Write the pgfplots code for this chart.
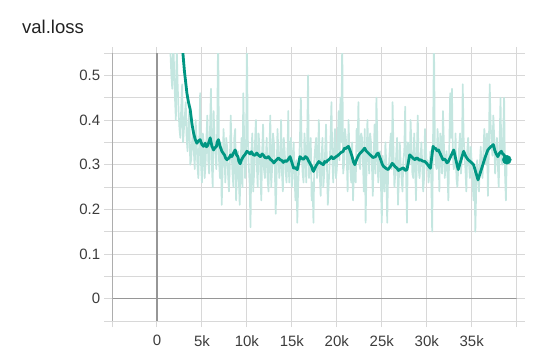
\documentclass[border=0pt]{standalone}
\usepackage{fontspec}
\setmainfont{Liberation Sans}
\usepackage{pgfplots}
\pgfplotsset{compat=1.18}
\definecolor{smoothc}{RGB}{0,150,130}
\definecolor{rawc}{RGB}{196,230,224}
\definecolor{gridc}{RGB}{216,216,216}
\definecolor{zeroc}{RGB}{150,150,150}
\definecolor{labc}{RGB}{60,60,60}
\definecolor{titc}{RGB}{33,33,33}
\pgfplotstableread{
x y
1400 0.62
1500 0.55
1600 0.50
1700 0.47
1800 0.58
1900 0.52
2000 0.45
2100 0.40
2200 0.56
2300 0.48
2400 0.42
2500 0.38
2600 0.36
2700 0.43
2800 0.48
2900 0.35
3000 0.38
3100 0.41
3200 0.44
3300 0.36
3400 0.33
3500 0.39
3600 0.42
3700 0.30
3800 0.31
3900 0.35
4000 0.38
4100 0.33
4200 0.29
4300 0.40
4400 0.36
4500 0.30
4600 0.27
4700 0.35
4800 0.46
4900 0.30
5000 0.26
5100 0.37
5200 0.35
5300 0.27
5400 0.30
5500 0.36
5600 0.41
5700 0.31
5800 0.28
5900 0.38
6000 0.47
6100 0.30
6200 0.25
6300 0.42
6400 0.36
6500 0.32
6600 0.29
6700 0.38
6800 0.60
6900 0.31
7000 0.27
7100 0.35
7200 0.21
7300 0.29
7400 0.38
7500 0.33
7600 0.26
7700 0.36
7800 0.34
7900 0.28
8000 0.24
8100 0.30
8200 0.41
8300 0.33
8400 0.28
8500 0.25
8600 0.36
8700 0.38
8800 0.22
8900 0.29
9000 0.33
9100 0.27
9200 0.21
9300 0.30
9400 0.36
9500 0.25
9600 0.46
9700 0.35
9800 0.27
9900 0.31
10000 0.58
10100 0.36
10200 0.30
10300 0.26
10400 0.16
10500 0.33
10600 0.37
10700 0.24
10800 0.28
10900 0.35
11000 0.40
11100 0.30
11200 0.25
11300 0.37
11400 0.34
11500 0.28
11600 0.22
11700 0.33
11800 0.39
11900 0.29
12000 0.27
12100 0.31
12200 0.36
12300 0.27
12400 0.24
12500 0.33
12600 0.41
12700 0.25
12800 0.29
12900 0.37
13000 0.35
13100 0.30
13200 0.19
13300 0.27
13400 0.38
13500 0.33
13600 0.27
13700 0.30
13800 0.40
13900 0.28
14000 0.24
14100 0.36
14200 0.33
14300 0.29
14400 0.26
14500 0.31
14600 0.42
14700 0.26
14800 0.31
14900 0.36
15000 0.25
15100 0.30
15200 0.35
15300 0.27
15400 0.22
15500 0.31
15600 0.17
15700 0.25
15800 0.30
15900 0.36
16000 0.45
16100 0.32
16200 0.28
16300 0.26
16400 0.37
16500 0.33
16600 0.26
16700 0.35
16800 0.50
16900 0.27
17000 0.31
17100 0.36
17200 0.22
17300 0.26
17400 0.17
17500 0.31
17600 0.34
17700 0.36
17800 0.27
17900 0.30
18000 0.40
18100 0.28
18200 0.23
18300 0.31
18400 0.36
18500 0.25
18600 0.28
18700 0.33
18800 0.39
18900 0.30
19000 0.21
19100 0.26
19200 0.30
19300 0.36
19400 0.44
19500 0.31
19600 0.26
19700 0.34
19800 0.38
19900 0.27
20000 0.29
20100 0.36
20200 0.42
20300 0.31
20400 0.45
20500 0.35
20600 0.58
20700 0.28
20800 0.30
20900 0.38
21000 0.36
21100 0.32
21200 0.24
21300 0.40
21400 0.33
21500 0.29
21600 0.26
21700 0.35
21800 0.22
21900 0.28
22000 0.31
22100 0.26
22200 0.38
22300 0.33
22400 0.44
22500 0.30
22600 0.29
22700 0.37
22800 0.36
22900 0.31
23000 0.24
23100 0.38
23200 0.17
23300 0.29
23400 0.40
23500 0.33
23600 0.28
23700 0.37
23800 0.35
23900 0.30
24000 0.23
24100 0.32
24200 0.39
24300 0.28
24400 0.45
24500 0.36
24600 0.26
24700 0.31
24800 0.33
24900 0.26
25000 0.17
25100 0.32
25200 0.27
25300 0.24
25400 0.35
25500 0.30
25600 0.17
25700 0.28
25800 0.30
25900 0.34
26000 0.37
26100 0.29
26200 0.44
26300 0.33
26400 0.25
26500 0.28
26600 0.32
26700 0.36
26800 0.21
26900 0.27
27000 0.35
27100 0.30
27200 0.27
27300 0.24
27400 0.31
27500 0.33
27600 0.43
27700 0.28
27800 0.17
27900 0.35
28000 0.33
28100 0.30
28200 0.40
28300 0.34
28400 0.28
28500 0.27
28600 0.37
28700 0.31
28800 0.22
28900 0.33
29000 0.41
29100 0.29
29200 0.27
29300 0.31
29400 0.35
29500 0.30
29600 0.24
29700 0.27
29800 0.38
29900 0.34
30000 0.29
30100 0.31
30200 0.26
30300 0.29
30400 0.33
30500 0.27
30600 0.15
30700 0.36
30800 0.58
30900 0.34
31000 0.30
31100 0.29
31200 0.38
31300 0.33
31400 0.24
31500 0.37
31600 0.34
31700 0.28
31800 0.42
31900 0.35
32000 0.27
32100 0.30
32200 0.33
32300 0.28
32400 0.22
32500 0.33
32600 0.46
32700 0.36
32800 0.47
32900 0.32
33000 0.29
33100 0.30
33200 0.37
33300 0.27
33400 0.25
33500 0.29
33600 0.34
33700 0.37
33800 0.28
33900 0.31
34000 0.48
34100 0.36
34200 0.32
34300 0.29
34400 0.24
34500 0.33
34600 0.36
34700 0.30
34800 0.27
34900 0.34
35000 0.30
35100 0.26
35200 0.22
35300 0.29
35400 0.15
35500 0.25
35600 0.31
35700 0.28
35800 0.24
35900 0.30
36000 0.34
36100 0.29
36200 0.27
36300 0.33
36400 0.38
36500 0.35
36600 0.30
36700 0.37
36800 0.23
36900 0.33
37000 0.48
37100 0.39
37200 0.35
37300 0.32
37400 0.41
37500 0.36
37600 0.28
37700 0.33
37800 0.36
37900 0.30
38000 0.25
38100 0.35
38200 0.45
38300 0.31
38400 0.30
38500 0.37
38600 0.45
38700 0.28
38800 0.22
38900 0.32
}\rawdata
\pgfplotstableread{
x y
2600 0.62
2800 0.57
3050 0.51
3330 0.46
3500 0.44
3700 0.423
3900 0.39
4070 0.371
4250 0.357
4440 0.348
4600 0.353
4800 0.356
5000 0.345
5180 0.341
5370 0.348
5500 0.340
5650 0.343
5800 0.352
5920 0.36
6100 0.342
6290 0.333
6450 0.338
6600 0.340
6700 0.351
6840 0.356
7000 0.342
7220 0.33
7350 0.326
7500 0.322
7650 0.314
7780 0.311
8050 0.316
8200 0.322
8330 0.318
8500 0.326
8700 0.333
8850 0.322
9000 0.318
9100 0.308
9250 0.302
9400 0.311
9600 0.318
9800 0.323
10000 0.33
10200 0.327
10350 0.324
10500 0.329
10700 0.322
10900 0.321
11100 0.326
11300 0.321
11500 0.318
11700 0.324
11850 0.321
12000 0.316
12200 0.315
12400 0.318
12600 0.312
12800 0.309
13000 0.304
13200 0.309
13350 0.312
13500 0.315
13700 0.311
13900 0.309
14050 0.305
14200 0.309
14400 0.307
14600 0.312
14800 0.318
15000 0.305
15200 0.292
15400 0.293
15600 0.289
15750 0.303
15900 0.318
16100 0.314
16300 0.312
16500 0.318
16700 0.315
16950 0.305
17200 0.296
17300 0.289
17400 0.285
17700 0.298
18000 0.307
18250 0.303
18500 0.30
18650 0.307
18800 0.305
18950 0.309
19100 0.311
19250 0.314
19400 0.318
19600 0.313
19800 0.316
20000 0.319
20200 0.322
20450 0.327
20700 0.33
20850 0.337
21000 0.336
21150 0.339
21300 0.341
21500 0.33
21700 0.318
21850 0.306
22000 0.30
22150 0.309
22300 0.316
22450 0.322
22600 0.326
22850 0.331
23100 0.337
23250 0.331
23400 0.328
23550 0.325
23700 0.322
24000 0.316
24300 0.318
24450 0.324
24600 0.326
24750 0.318
24900 0.31
25050 0.301
25200 0.296
25450 0.292
25700 0.289
25850 0.293
26000 0.297
26150 0.303
26300 0.30
26500 0.295
26700 0.292
26850 0.287
27000 0.289
27200 0.291
27400 0.293
27600 0.287
27800 0.289
27950 0.305
28100 0.322
28250 0.319
28400 0.316
28550 0.313
28700 0.311
28850 0.315
29000 0.314
29150 0.31
29300 0.311
29550 0.308
29800 0.307
29950 0.304
30100 0.300
30250 0.296
30400 0.292
30550 0.316
30700 0.341
30850 0.337
31000 0.336
31150 0.331
31300 0.333
31550 0.322
31800 0.311
31950 0.313
32100 0.31
32250 0.304
32400 0.307
32700 0.32
33000 0.333
33250 0.31
33500 0.289
33800 0.31
34100 0.33
34350 0.318
34600 0.311
34900 0.306
35200 0.30
35450 0.283
35700 0.266
36000 0.285
36300 0.304
36550 0.32
36800 0.333
37100 0.34
37250 0.342
37400 0.345
37550 0.333
37700 0.325
37900 0.318
38100 0.326
38300 0.33
38450 0.324
38600 0.322
38750 0.315
38900 0.311
}\smoothdata
\begin{document}
\begin{tikzpicture}
\useasboundingbox (0pt,0pt) rectangle (556pt,353pt);
\node[anchor=base west, inner sep=0pt, text=titc, font=\fontsize{18.5}{22}\selectfont] at (22pt,319pt) {val.loss};
\begin{axis}[
  at={(112pt,32pt)}, anchor=south west,
  scale only axis, width=404.7pt, height=268pt,
  xmin=-5000, xmax=40000, ymin=-0.05, ymax=0.55,
  xtick={-5000,0,5000,10000,15000,20000,25000,30000,35000,40000},
  xticklabels={,0,5k,10k,15k,20k,25k,30k,35k,},
  ytick={-0.05,0,0.05,0.1,0.15,0.2,0.25,0.3,0.35,0.4,0.45,0.5,0.55},
  yticklabels={,0,,0.1,,0.2,,0.3,,0.4,,0.5,},
  scaled x ticks=false, scaled y ticks=false,
  tick align=outside,
  xtick style={gridc, line width=1pt, /pgfplots/major tick length=6pt},
  ytick style={gridc, line width=1pt, /pgfplots/major tick length=8pt},
  grid=major,
  grid style={gridc, line width=1pt},
  axis line style={gridc, line width=1pt},
  ticklabel style={text=labc, font=\fontsize{15}{18}\selectfont, inner sep=0pt},
  yticklabel style={anchor=east, xshift=-7.3pt},
  xticklabel style={anchor=north, yshift=-9.7pt},
  /pgf/number format/assume math mode=true,
  clip=true,
]
\draw[zeroc, line width=1.3pt] (axis cs:0,-0.05) -- (axis cs:0,0.55);
\draw[zeroc, line width=1.3pt] (axis cs:-5000,0) -- (axis cs:40000,0);
\draw[gridc!80!black, line width=1pt] (axis cs:-5000,-0.05) -- (axis cs:-5000,0.55);
\addplot[rawc, line width=1.7pt, line join=round] table {\rawdata};
\addplot[smoothc, line width=2.8pt, line join=round] table {\smoothdata};
\addplot[smoothc, only marks, mark=*, mark size=4.5pt] coordinates {(38900,0.311)};
\end{axis}
\end{tikzpicture}
\end{document}
